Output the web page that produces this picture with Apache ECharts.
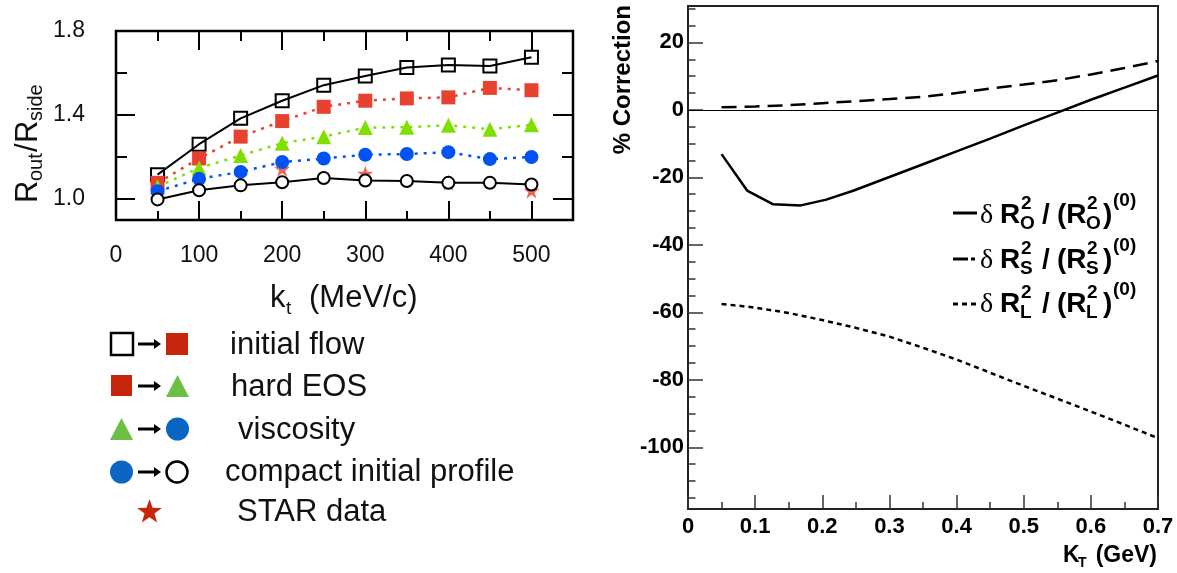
<!DOCTYPE html>
<html lang="en">
  <head>
    <meta charset="UTF-8" />
    <title>Rout/Rside and HBT corrections</title>
    <script src="https://cdn.jsdelivr.net/npm/echarts@6/dist/echarts.min.js"></script>
    <style>
      html, body { margin: 0; padding: 0; background: #fff; }
      #container { width: 1177px; height: 573px; }
    </style>
  </head>
  <body>
    <div id="container"></div>

    <script>
      // ---- left panel: Rout/Rside vs kt (MeV/c) ----
      const ktValues = [50, 100, 150, 200, 250, 300, 350, 400, 450, 500];
      const baseline = [1.116, 1.261, 1.384, 1.468, 1.542, 1.586, 1.626, 1.638, 1.633, 1.675];
      const withFlow = [1.077, 1.193, 1.297, 1.371, 1.439, 1.468, 1.479, 1.484, 1.529, 1.518];
      const withHardEos = [1.058, 1.148, 1.207, 1.266, 1.297, 1.340, 1.342, 1.351, 1.332, 1.353];
      const withViscosity = [1.037, 1.096, 1.129, 1.176, 1.193, 1.211, 1.214, 1.223, 1.190, 1.200];
      const withCompactProfile = [0.998, 1.042, 1.065, 1.080, 1.100, 1.088, 1.086, 1.077, 1.077, 1.069];
      const starKt = [200, 300, 400, 500];
      const starValues = [1.144, 1.121, 1.077, 1.040];

      const leftXTicks = [0, 100, 200, 300, 400, 500];
      const leftXMinorTicks = [50, 150, 250, 350, 450];
      const leftYTicks = [1.0, 1.4, 1.8];
      const leftYMinorTicks = [1.2, 1.6];

      // ---- right panel: % correction vs KT (GeV) ----
      const ktOut = [0.05, 0.088, 0.127, 0.168, 0.206, 0.247, 0.3, 0.35, 0.4, 0.45, 0.5, 0.55, 0.6, 0.65, 0.7];
      const corrOut = [-13.1, -23.9, -28.0, -28.3, -26.6, -23.9, -19.9, -16.1, -12.3, -8.5, -4.6, -0.8, 3.0, 6.6, 10.2];
      const ktSideLong = [0.05, 0.1, 0.15, 0.2, 0.25, 0.3, 0.35, 0.4, 0.45, 0.5, 0.55, 0.6, 0.65, 0.7];
      const corrSide = [0.8, 1.0, 1.4, 2.0, 2.6, 3.2, 3.9, 5.0, 6.3, 7.5, 8.8, 10.5, 12.4, 14.5];
      const corrLong = [-57.5, -58.6, -60.2, -62.3, -64.6, -67.2, -70.5, -74.0, -77.9, -81.8, -85.6, -89.4, -93.3, -97.3];

      const rightYTicks = [-100, -80, -60, -40, -20, 0, 20];
      const rightYMinorTicks = [-115, -110, -105, -95, -90, -85, -75, -70, -65, -55, -50, -45,
        -35, -30, -25, -15, -10, -5, 5, 10, 15, 25, 30];

      const sans = "Liberation Sans";
      const plotRed = "#e8412f", plotGreen = "#7fe000", plotBlue = "#0052f2";
      const keyRed = "#c8260c", keyGreen = "#6cbe45", keyBlue = "#0a66c2";
      const starPath = "path://M50,0 L61.8,35.4 L99,35.4 L69,57.3 L80.4,92.7 L50,70.8 L19.6,92.7 L31,57.3 L1,35.4 L38.2,35.4 Z";

      const zip = (xs, ys) => xs.map((x, i) => [x, ys[i]]);

      const chart = echarts.init(document.getElementById("container"), null, { renderer: "canvas" });

      // an axis that only draws ticks (the grid border is the frame)
      function tickAxis(extra) {
        return Object.assign({
          type: "value",
          axisLine: { show: false, onZero: false },
          splitLine: { show: false },
          axisLabel: { show: false },
        }, extra);
      }

      function starPoints(cx, cy, r) {
        const pts = [];
        for (let i = 0; i < 10; i++) {
          const rr = i % 2 === 0 ? r : r * 0.4;
          const a = -Math.PI / 2 + i * Math.PI / 5;
          pts.push([cx + rr * Math.cos(a), cy + rr * Math.sin(a)]);
        }
        return pts;
      }

      function arrow(y) {
        return [
          { type: "line", shape: { x1: 138, y1: y, x2: 155, y2: y }, style: { stroke: "#000", lineWidth: 3 } },
          { type: "polygon", shape: { points: [[154, y - 5], [161, y], [154, y + 5]] }, style: { fill: "#000" } },
        ];
      }

      function keyText(x, y, text) {
        return { type: "text", x: x, y: y, style: { text: text, font: "31px " + sans, fill: "#111", verticalAlign: "middle" } };
      }

      // legend label "δ R²_X / (R²_X)^(0)"
      function ratioLabel(x0, yc, sub) {
        const big = "bold 28px " + sans, small = "bold 19px " + sans;
        const t = (dx, dy, text, font) => ({ type: "text", x: x0 + dx, y: yc + dy, style: { text: text, font: font, fill: "#000", verticalAlign: "middle" } });
        return [
          t(0, 1, "δ", "28px 'Liberation Serif'"),
          t(20, 0, "R", big),
          t(41, -11, "2", small),
          t(40, 9, sub, small),
          t(62, 0, "/", big),
          t(77, 0, "(R", big),
          t(107, -11, "2", small),
          t(106, 9, sub, small),
          t(123, 0, ")", big),
          t(133, -14, "(0)", small),
        ];
      }

      const keyGraphics = [].concat(
        // row 1: open square -> red square
        [{ type: "rect", shape: { x: 111, y: 333, width: 22, height: 22 }, style: { fill: "none", stroke: "#000", lineWidth: 2.5 } }],
        arrow(344),
        [{ type: "rect", shape: { x: 166, y: 333, width: 22, height: 22 }, style: { fill: keyRed } }],
        // row 2: red square -> green triangle
        [{ type: "rect", shape: { x: 111, y: 375, width: 21, height: 21 }, style: { fill: keyRed } }],
        arrow(386),
        [{ type: "polygon", shape: { points: [[166, 397], [189, 397], [177.5, 375]] }, style: { fill: keyGreen } }],
        // row 3: green triangle -> blue circle
        [{ type: "polygon", shape: { points: [[110, 440], [133, 440], [121.5, 418]] }, style: { fill: keyGreen } }],
        arrow(429),
        [{ type: "circle", shape: { cx: 177.5, cy: 429, r: 11.5 }, style: { fill: keyBlue } }],
        // row 4: blue circle -> open circle
        [{ type: "circle", shape: { cx: 121.5, cy: 472, r: 11.5 }, style: { fill: keyBlue } }],
        arrow(472),
        [{ type: "circle", shape: { cx: 177, cy: 472, r: 10.5 }, style: { fill: "none", stroke: "#000", lineWidth: 2.5 } }],
        // row 5: STAR star
        [{ type: "polygon", shape: { points: starPoints(149.5, 512, 13) }, style: { fill: keyRed } }],
        [
          keyText(230, 345, "initial flow"),
          keyText(231, 387, "hard EOS"),
          keyText(238, 430, "viscosity"),
          keyText(225, 472, "compact initial profile"),
          keyText(237, 512, "STAR data"),
        ]
      );

      const axisNameGraphics = [
        // left y name: R_out / R_side
        {
          type: "group", x: 28, y: 143, rotation: Math.PI / 2,
          children: [
            { type: "text", x: -60, y: 0, style: { text: "R", font: "31px " + sans, fill: "#111", verticalAlign: "middle" } },
            { type: "text", x: -38, y: 8, style: { text: "out", font: "20px " + sans, fill: "#111", verticalAlign: "middle" } },
            { type: "text", x: -9, y: 0, style: { text: "/", font: "31px " + sans, fill: "#111", verticalAlign: "middle" } },
            { type: "text", x: 0, y: 0, style: { text: "R", font: "31px " + sans, fill: "#111", verticalAlign: "middle" } },
            { type: "text", x: 22, y: 8, style: { text: "side", font: "20px " + sans, fill: "#111", verticalAlign: "middle" } },
          ],
        },
        // left x name: k_t (MeV/c)
        { type: "text", x: 270, y: 298, style: { text: "k", font: "31px " + sans, fill: "#111", verticalAlign: "middle" } },
        { type: "text", x: 286, y: 309, style: { text: "t", font: "19px " + sans, fill: "#111", verticalAlign: "middle" } },
        { type: "text", x: 309, y: 298, style: { text: "(MeV/c)", font: "31px " + sans, fill: "#111", verticalAlign: "middle" } },
        // right y name
        { type: "text", x: 623, y: 5, rotation: Math.PI / 2, style: { text: "% Correction", font: "bold 24px " + sans, fill: "#000", align: "right", verticalAlign: "middle" } },
        // right x name: K_T (GeV)
        { type: "text", x: 1063, y: 556, style: { text: "K", font: "bold 23px " + sans, fill: "#000", verticalAlign: "middle" } },
        { type: "text", x: 1078, y: 563, style: { text: "T", font: "bold 14px " + sans, fill: "#000", verticalAlign: "middle" } },
        { type: "text", x: 1157, y: 556, style: { text: "(GeV)", font: "bold 23px " + sans, fill: "#000", align: "right", verticalAlign: "middle" } },
      ];

      const ratioGraphics = [].concat(
        [{ type: "line", shape: { x1: 953, y1: 213, x2: 977, y2: 213 }, style: { stroke: "#000", lineWidth: 3 } }],
        ratioLabel(980, 215, "O"),
        [{ type: "line", shape: { x1: 953, y1: 259, x2: 977, y2: 259 }, style: { stroke: "#000", lineWidth: 3, lineDash: [15, 3, 4, 3] } }],
        ratioLabel(980, 260, "S"),
        [{ type: "line", shape: { x1: 953, y1: 304, x2: 976, y2: 304 }, style: { stroke: "#000", lineWidth: 3, lineDash: [5, 4] } }],
        ratioLabel(980, 304, "L")
      );

      const leftBox = { left: 116, top: 31, width: 457, height: 189 };
      const rightBox = { left: 688, top: 6, width: 470, height: 503 };

      const option = {
        animation: false,
        backgroundColor: "#fff",
        grid: [
          Object.assign({ show: true, borderColor: "#000", borderWidth: 2.5, backgroundColor: "transparent" }, leftBox),
          Object.assign({ show: false }, leftBox),
          Object.assign({ show: true, borderColor: "#222", borderWidth: 2, backgroundColor: "transparent" }, rightBox),
          Object.assign({ show: false }, rightBox),
        ],
        xAxis: [
          tickAxis({
            gridIndex: 0, position: "bottom", min: 0, max: 550,
            axisTick: { inside: true, length: 19, customValues: leftXTicks, lineStyle: { color: "#000", width: 2 } },
            axisLabel: { show: true, customValues: leftXTicks, margin: 24, fontSize: 23, fontFamily: sans, color: "#111" },
          }),
          tickAxis({
            gridIndex: 0, position: "top", min: 0, max: 550,
            axisTick: { inside: true, length: 19, customValues: leftXTicks, lineStyle: { color: "#000", width: 2 } },
          }),
          tickAxis({
            gridIndex: 1, position: "bottom", min: 0, max: 550,
            axisTick: { inside: true, length: 9, customValues: leftXMinorTicks, lineStyle: { color: "#000", width: 2 } },
          }),
          tickAxis({
            gridIndex: 1, position: "top", min: 0, max: 550,
            axisTick: { inside: true, length: 10, customValues: leftXMinorTicks, lineStyle: { color: "#000", width: 2 } },
          }),
          tickAxis({
            gridIndex: 2, position: "bottom", min: 0, max: 0.7, interval: 0.1,
            axisTick: { inside: true, length: 14, lineStyle: { color: "#333", width: 1.5 } },
            minorTick: { show: true, splitNumber: 2, length: 7, lineStyle: { color: "#333", width: 1.5 } },
            axisLabel: {
              show: true, margin: 7, fontSize: 22, fontWeight: "bold", fontFamily: sans, color: "#000",
              formatter: (v) => (v === 0 ? "0" : v.toFixed(1)),
            },
          }),
          tickAxis({ gridIndex: 3, show: false, min: 0, max: 0.7 }),
        ],
        yAxis: [
          tickAxis({
            gridIndex: 0, position: "left", min: 0.9, max: 1.8,
            axisTick: { inside: true, length: 19, customValues: leftYTicks, lineStyle: { color: "#000", width: 2 } },
            axisLabel: {
              show: true, customValues: leftYTicks, margin: 31, fontSize: 23, fontFamily: sans, color: "#111",
              formatter: (v) => v.toFixed(1),
            },
          }),
          tickAxis({
            gridIndex: 0, position: "right", min: 0.9, max: 1.8,
            axisTick: { inside: true, length: 20, customValues: leftYTicks, lineStyle: { color: "#000", width: 2 } },
          }),
          tickAxis({
            gridIndex: 1, position: "left", min: 0.9, max: 1.8,
            axisTick: { inside: true, length: 11, customValues: leftYMinorTicks, lineStyle: { color: "#000", width: 2 } },
          }),
          tickAxis({
            gridIndex: 1, position: "right", min: 0.9, max: 1.8,
            axisTick: { inside: true, length: 11, customValues: leftYMinorTicks, lineStyle: { color: "#000", width: 2 } },
          }),
          tickAxis({
            gridIndex: 2, position: "left", min: -118.3, max: 30.8,
            axisTick: { inside: true, length: 15, customValues: rightYTicks, lineStyle: { color: "#333", width: 1.5 } },
            axisLabel: { show: true, customValues: rightYTicks, margin: 4, fontSize: 22, fontWeight: "bold", fontFamily: sans, color: "#000" },
          }),
          tickAxis({
            gridIndex: 3, position: "left", min: -118.3, max: 30.8,
            axisTick: { inside: true, length: 7.5, customValues: rightYMinorTicks, lineStyle: { color: "#333", width: 1.5 } },
          }),
        ],
        series: [
          {
            name: "baseline", type: "line", xAxisIndex: 0, yAxisIndex: 0,
            data: zip(ktValues, baseline),
            symbol: "rect", symbolSize: 13,
            itemStyle: { color: "rgba(255,255,255,0)", borderColor: "#000", borderWidth: 2 },
            lineStyle: { color: "#000", width: 2 },
          },
          {
            name: "initial flow", type: "line", xAxisIndex: 0, yAxisIndex: 0,
            data: zip(ktValues, withFlow),
            symbol: "rect", symbolSize: 14,
            itemStyle: { color: plotRed },
            lineStyle: { color: plotRed, width: 2.5, type: [3, 6] },
          },
          {
            name: "hard EOS", type: "line", xAxisIndex: 0, yAxisIndex: 0,
            data: zip(ktValues, withHardEos),
            symbol: "triangle", symbolSize: 15,
            itemStyle: { color: plotGreen },
            lineStyle: { color: plotGreen, width: 2.5, type: [3, 6] },
          },
          {
            name: "viscosity", type: "line", xAxisIndex: 0, yAxisIndex: 0,
            data: zip(ktValues, withViscosity),
            symbol: "circle", symbolSize: 14,
            itemStyle: { color: plotBlue },
            lineStyle: { color: plotBlue, width: 2.5, type: [3, 6] },
          },
          {
            name: "compact initial profile", type: "line", xAxisIndex: 0, yAxisIndex: 0,
            data: zip(ktValues, withCompactProfile),
            symbol: "circle", symbolSize: 12,
            itemStyle: { color: "#fff", borderColor: "#000", borderWidth: 2 },
            lineStyle: { color: "#000", width: 2 },
          },
          {
            name: "STAR data", type: "scatter", xAxisIndex: 0, yAxisIndex: 0,
            data: zip(starKt, starValues),
            symbol: starPath, symbolSize: 16,
            itemStyle: { color: plotRed },
          },
          {
            name: "dRo", type: "line", xAxisIndex: 4, yAxisIndex: 4,
            data: zip(ktOut, corrOut), showSymbol: false,
            lineStyle: { color: "#000", width: 2.5 },
            markLine: {
              silent: true, symbol: ["none", "none"], label: { show: false },
              lineStyle: { color: "#000", width: 1, type: "solid" },
              data: [{ yAxis: 0 }],
            },
          },
          {
            name: "dRs", type: "line", xAxisIndex: 4, yAxisIndex: 4,
            data: zip(ktSideLong, corrSide), showSymbol: false,
            lineStyle: { color: "#000", width: 2.5, type: [15, 8] },
          },
          {
            name: "dRl", type: "line", xAxisIndex: 4, yAxisIndex: 4,
            data: zip(ktSideLong, corrLong), showSymbol: false,
            lineStyle: { color: "#000", width: 2.5, type: [5, 4] },
          },
        ],
        graphic: { elements: keyGraphics.concat(axisNameGraphics, ratioGraphics) },
      };

      chart.setOption(option);
    </script>
  </body>
</html>
